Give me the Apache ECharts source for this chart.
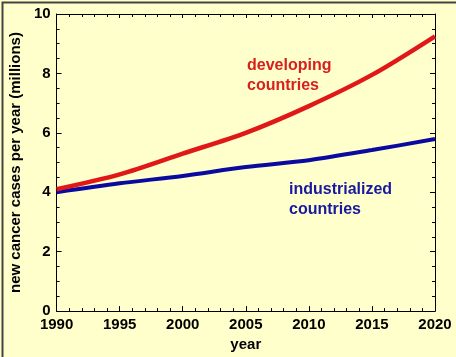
<!DOCTYPE html>
<html><head><meta charset="utf-8">
<script src="https://cdn.jsdelivr.net/npm/echarts@6/dist/echarts.min.js"></script>
<style>html,body{margin:0;padding:0;background:#FFFFCC;}#c{width:456px;height:357px;}</style>
</head><body><div id="c"></div>
<script>
var years = [1990, 1995, 2000, 2005, 2010, 2015, 2020];
var developing = [4.1, 4.6, 5.3, 6.0, 6.9, 7.95, 9.25];
var industrialized = [4.0, 4.3, 4.55, 4.85, 5.08, 5.42, 5.79];
var seriesNames = ['developing countries', 'industrialized countries'];

function pairs(xs, ys){ return xs.map(function(x,i){return [x, ys[i]];}); }
var F = 'Liberation Sans, Arial, sans-serif';
var chart = echarts.init(document.getElementById('c'));
function tickAxis(extra, split, majorLen){
  return Object.assign({
    axisLine:{show:true, onZero:false, lineStyle:{color:'#000', width:1}},
    axisTick:{show:true, inside:true, length:majorLen, lineStyle:{color:'#000'}},
    minorTick:{show:true, splitNumber:split, length:3, lineStyle:{color:'#000'}},
    splitLine:{show:false},
    minorSplitLine:{show:false}
  }, extra);
}
chart.setOption({
  backgroundColor:'#FFFFCC',
  animation:false,
  grid:{left:52, right:21, top:14, bottom:44},
  xAxis:[
    tickAxis({type:'value', min:1990, max:2020, interval:5, position:'bottom',
      name:'year', nameLocation:'middle', nameGap:24,
      nameTextStyle:{fontFamily:F, fontWeight:'bold', fontSize:15, color:'#000'},
      axisLabel:{fontFamily:F, fontWeight:'bold', fontSize:15, color:'#000', margin:6,
        formatter:function(v){return String(v);}}}, 5, 5),
    tickAxis({type:'value', min:1990, max:2020, interval:5, position:'top',
      axisLabel:{show:false}}, 5, 4)
  ],
  yAxis:[
    tickAxis({type:'value', min:0, max:10, interval:2, position:'left',
      name:'new cancer cases per year (millions)', nameLocation:'middle', nameGap:28,
      nameTextStyle:{fontFamily:F, fontWeight:'bold', fontSize:15, color:'#000'},
      axisLabel:{fontFamily:F, fontWeight:'bold', fontSize:15, color:'#000', margin:6}}, 4, 5),
    tickAxis({type:'value', min:0, max:10, interval:2, position:'right',
      axisLabel:{show:false}}, 4, 5)
  ],
  series:[
    {name:seriesNames[0], type:'line', smooth:0.3, symbol:'none', data:pairs(years, developing),
      lineStyle:{color:'#E01818', width:4.5}, z:3},
    {name:seriesNames[1], type:'line', smooth:0.3, symbol:'none', data:pairs(years, industrialized),
      lineStyle:{color:'#0A0AA0', width:4}, z:2}
  ],
  graphic:[
    {type:'text', left:247, top:56, style:{text:'developing\ncountries', fill:'#D82020',
      font:'bold 16px Liberation Sans, Arial, sans-serif', lineHeight:20}},
    {type:'text', left:289, top:180, style:{text:'industrialized\ncountries', fill:'#1818A0',
      font:'bold 16px Liberation Sans, Arial, sans-serif', lineHeight:20}},
    {type:'rect', left:0, top:0, shape:{width:455, height:356}, style:{fill:'none', stroke:'#444', lineWidth:2}, silent:true}
  ]
});
</script></body></html>
